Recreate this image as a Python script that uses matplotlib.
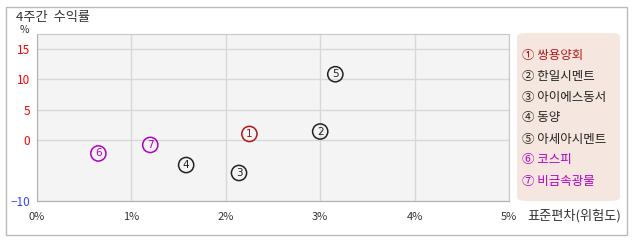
import matplotlib
matplotlib.use("Agg")
import matplotlib.pyplot as plt
from matplotlib.patches import Rectangle, FancyBboxPatch

plt.rcParams['font.family'] = ['Noto Sans CJK KR', 'DejaVu Sans']

names = ["쌍용양회", "한일시멘트", "아이에스동서", "동양", "아세아시멘트", "코스피", "비금속광물"]
nums = ["1", "2", "3", "4", "5", "6", "7"]
circled = ["①", "②", "③", "④", "⑤", "⑥", "⑦"]
risk = [2.25, 3.0, 2.14, 1.58, 3.16, 0.65, 1.2]
ret = [1.0, 1.4, -5.4, -4.1, 10.8, -2.2, -0.8]
colors = ["#b01818", "#222222", "#222222", "#222222", "#222222", "#b000c0", "#b000c0"]
xticks = [0, 1, 2, 3, 4, 5]
xlabels = ["0%", "1%", "2%", "3%", "4%", "5%"]
yticks = [-10, 0, 5, 10, 15]
ylabels = ["−10", "0", "5", "10", "15"]
ycolors = ["#3344ff", "red", "red", "red", "red"]

W, H = 638, 242
fig = plt.figure(figsize=(W / 100, H / 100), dpi=100)

def fx(p): return p / W
def fy(p): return 1 - p / H

# outer border
fig.patches.append(Rectangle((fx(6), fy(235)), fx(621), 228 / H, transform=fig.transFigure,
                             fill=False, edgecolor="#bbbbbb", linewidth=1))
fig.text(fx(16), fy(18), "4주간  수익률", fontsize=9.5, color="#333333", va="center", ha="left")

ax = fig.add_axes([fx(37), fy(201), fx(472), 167 / H])
ax.set_facecolor("#f4f4f4")
ax.set_xlim(0, 5)
ax.set_ylim(-10, 17.4)
ax.set_xticks(xticks)
ax.set_xticklabels(xlabels, fontsize=8, color="#333333")
ax.set_yticks(yticks)
ax.set_yticklabels(ylabels, fontsize=8.5)
for lab, c in zip(ax.get_yticklabels(), ycolors):
    lab.set_color(c)
ax.tick_params(length=0, pad=8)
ax.tick_params(axis='y', pad=5)
ax.grid(True, color="#d8d8d8", linewidth=1)
ax.set_axisbelow(True)
for s in ax.spines.values():
    s.set_color("#c8c8c8")
ax.spines['left'].set_color("#b0b0b0")
ax.spines['bottom'].set_color("#b0b0b0")

for x, y, n, c in zip(risk, ret, nums, colors):
    ax.scatter([x], [y], s=120, facecolor="none", edgecolor=c, linewidth=1.1, zorder=3)
    ax.text(x, y, n, fontsize=7.5, color=c, ha="center", va="center", zorder=4,
            family="DejaVu Sans")

fig.text(fx(24), fy(35), "%", fontsize=7.5, color="#333333", ha="center", va="bottom")
fig.text(fx(621), fy(216), "표준편차(위험도)", fontsize=9.5, color="#333333", ha="right", va="center")

# legend box
fig.patches.append(FancyBboxPatch((fx(517), fy(201)), fx(103), 168 / H,
                                  boxstyle="round,pad=0,rounding_size=0.015",
                                  transform=fig.transFigure, facecolor="#f5e7df",
                                  edgecolor="none"))
ys = [56, 77, 98, 118, 139, 160, 181]
for y, cc, nm, c in zip(ys, circled, names, colors):
    fig.text(fx(522), fy(y), cc + " " + nm, fontsize=9, color=c, ha="left", va="center")

fig.savefig("out.png", dpi=100)
